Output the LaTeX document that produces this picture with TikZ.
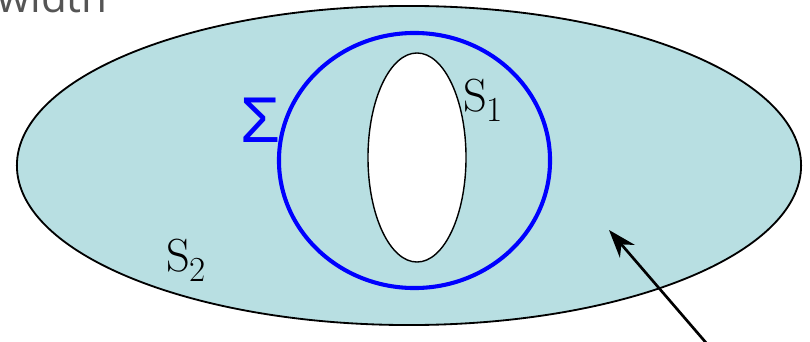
\documentclass[tikz,border=0pt]{standalone}
\usepackage{fontspec}
\newfontfamily\sigmafont{Liberation Sans}
\newfontfamily\titlefont{Open Sans}
\usetikzlibrary{arrows.meta, shapes.geometric, positioning}
\usepackage{xcolor}
\definecolor{ink}     {HTML}{000000}
\definecolor{sigblue} {HTML}{0000FF}
\definecolor{region}  {HTML}{B8DFE2}
\definecolor{titlegray}{HTML}{555555}
\tikzset{
  outer/.style  = {ellipse, draw=ink, line width=1.3pt, fill=region,
                   inner sep=0pt, minimum width=19.6cm, minimum height=7.975cm},
  surf/.style   = {ellipse, draw=sigblue, line width=2.9pt,
                   inner sep=0pt, minimum width=6.775cm, minimum height=6.375cm},
  hole/.style   = {ellipse, draw=ink, line width=1pt, fill=white,
                   inner sep=0pt, minimum width=2.45cm, minimum height=5.225cm},
  slabel/.style = {anchor=base west, inner sep=0pt,
                   font=\rmfamily\fontsize{33}{33}\selectfont, text=ink},
  siglabel/.style = {anchor=base west, inner sep=0pt,
                   font=\sigmafont\fontsize{46}{46}\selectfont, text=sigblue},
  arr/.style    = {-{Stealth[length=20pt, width=14pt]}, line width=1.9pt, ink},
}
\newcommand{\lowsub}[1]{\raisebox{-7.8pt}{\rmfamily\fontsize{25}{25}\selectfont #1}}

\begin{document}
\begin{tikzpicture}[x=0.025cm, y=-0.025cm]
  \useasboundingbox (0,0) rectangle (810,342);
  \clip (0,0) rectangle (810,342);

  % slide title, cut at the top
  \node[anchor=base east, inner sep=0pt, text=titlegray,
        font=\titlefont\fontsize{30}{30}\selectfont] (title) at (108,12) {width};

  % regions
  \node[outer] (S2) at (409,165.5) {};
  \node[surf]  (Sigma) at (414.5,160.5) {};
  \node[hole]  (S1) at (417,157.5) {};

  % labels
  \node[siglabel] (sig) at (240,142) {Σ};
  \node[slabel] (lab1) at (463,111) {S\lowsub{1}};
  \node[slabel] (lab2) at (166,271) {S\lowsub{2}};

  % pointer
  \coordinate (tail) at (714,352);
  \coordinate (tip) at (609,230);
  \draw[arr] (tail) -- (tip);

\end{tikzpicture}
\end{document}
